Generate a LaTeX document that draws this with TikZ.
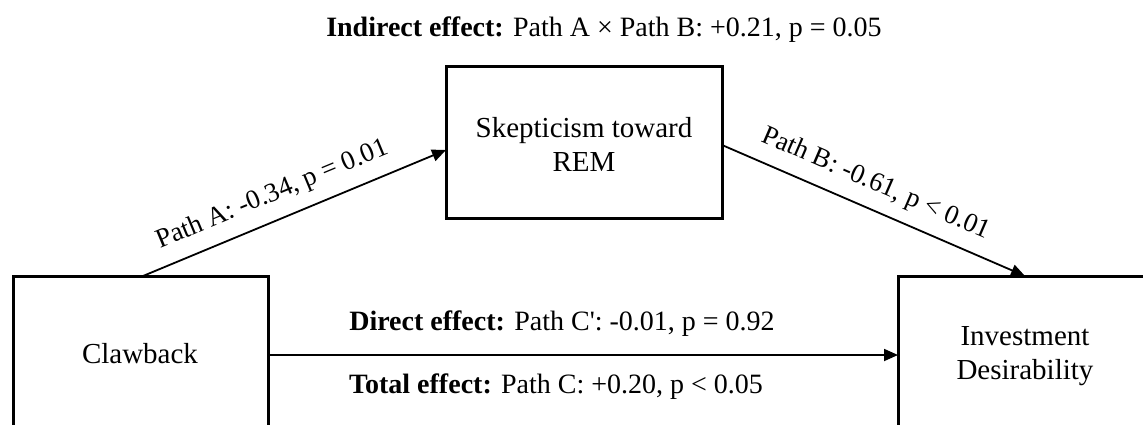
\documentclass[tikz,border=0pt]{standalone}
\usepackage{fontspec}
\setmainfont{Liberation Serif}
\newfontfamily\plainq{Liberation Serif}
\usetikzlibrary{arrows.meta}
\tikzset{
  box/.style={draw, line width=3pt, inner sep=0pt},
  conn/.style={line width=1.8pt, -{Triangle[length=14pt,width=12pt]}},
  lbl/.style={font=\fontsize{28}{33}\selectfont, inner sep=0pt, anchor=base},
  boxlbl/.style={font=\fontsize{29}{34}\selectfont, inner sep=0pt, align=center},
  pathlbl/.style={font=\fontsize{27}{32}\selectfont, inner sep=0pt, sloped, above=12pt},
}
\begin{document}
\begin{tikzpicture}[x=1pt,y=-1pt]
\useasboundingbox (0,0) rectangle (1143,425);
\clip (0,0) rectangle (1143,425);
\node[box, minimum width=255pt, minimum height=170pt] (claw) at (140.5,361) {};
\node[box, minimum width=276pt, minimum height=151pt] (skep) at (584,142.5) {};
\node[box, minimum width=276pt, minimum height=170pt] (inv) at (1036,361) {};
\node[boxlbl, anchor=base] (clawt) at (140,363) {Clawback};
\node[boxlbl] (skept) at (584,144) {Skepticism toward\\REM};
\node[boxlbl] (invt) at (1025,356) {Investment\\Desirability};
\coordinate (aS) at (143,276);
\coordinate (aE) at (446,150);
\coordinate (bS) at (722,145);
\coordinate (bE) at (1025,276);
\coordinate (cS) at (268,355);
\coordinate (cE) at (898,355);
\draw[conn] (aS) -- node[pathlbl, pos=0.46] (pa) {Path A: -0.34, p = 0.01} (aE);
\draw[conn] (bS) -- node[pathlbl, pos=0.475] (pb) {Path B: -0.61, p < 0.01} (bE);
\draw[conn] (cS) -- (cE);
\node[lbl] (ind) at (604,37) {\textbf{Indirect effect:} Path A × Path B: +0.21, p = 0.05};
\node[lbl] (dir) at (562,330) {\textbf{Direct effect:} Path C{\plainq '}: -0.01, p = 0.92};
\node[lbl] (tot) at (556,393) {\textbf{Total effect:} Path C: +0.20, p < 0.05};
\end{tikzpicture}
\end{document}
